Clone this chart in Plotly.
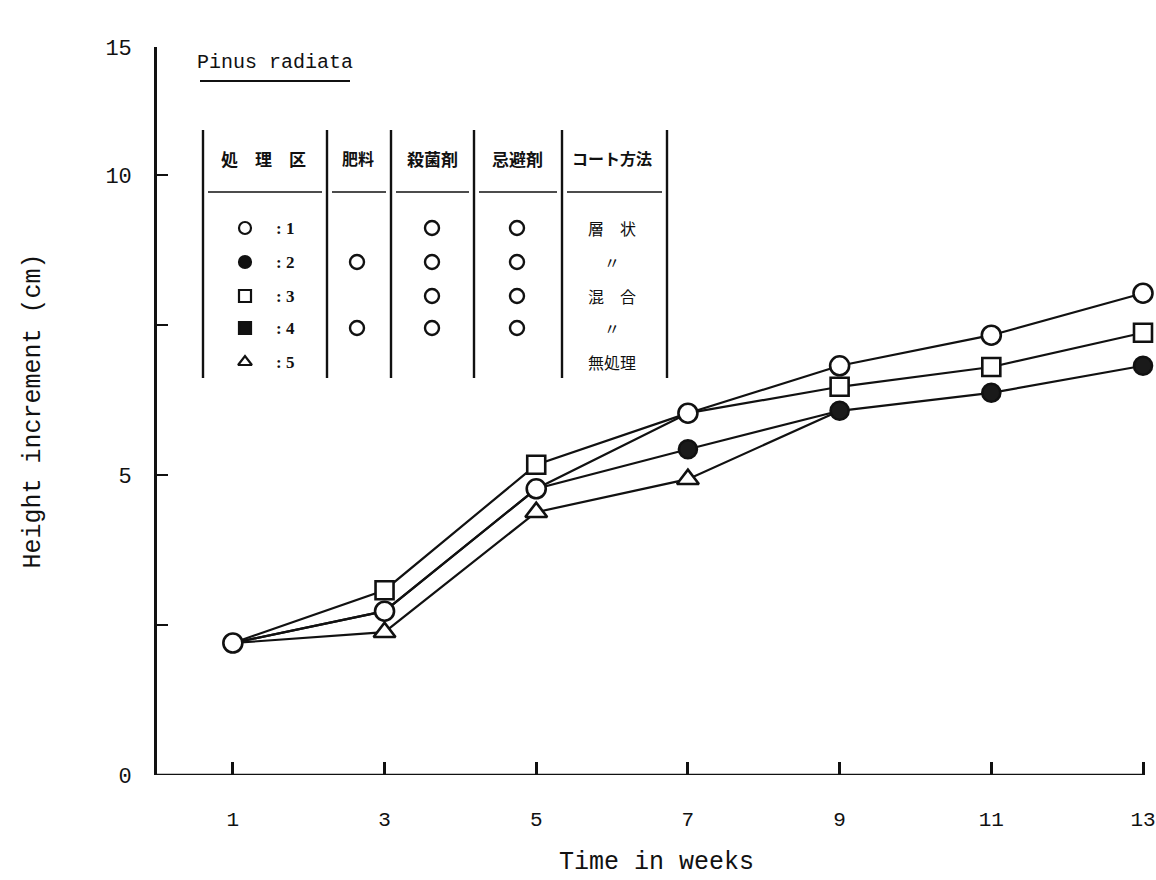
import plotly.graph_objects as go

# ---------------- data ----------------
weeks = [1, 3, 5, 7, 9, 11, 13]
t1_open_circle = [2.2, 2.73, 4.77, 6.03, 6.82, 7.33, 8.03]
t2_filled_circle = [2.2, 2.73, 4.77, 5.43, 6.07, 6.37, 6.82]
t3_open_square = [2.2, 3.08, 5.17, 6.03, 6.47, 6.80, 7.37]
t5_weeks = [1, 3, 5, 7, 9]
t5_triangle = [2.2, 2.38, 4.38, 4.93, 6.07]

# which points show a marker (others are hidden under another symbol)
t1_show = [1, 1, 1, 1, 1, 1, 1]
t2_show = [0, 0, 0, 1, 1, 1, 1]
t3_show = [0, 1, 1, 0, 1, 1, 1]
t5_show = [0, 1, 1, 1, 0]

x_ticks = [1, 3, 5, 7, 9, 11, 13]
x_ticktext = ["1", "3", "5", "7", "9", "11", "13"]
y_top = 12.133
y_ticks = [0, 2.5, 5, 7.5, 10, y_top]
y_ticktext = ["0", "", "5", "", "10", "15"]

table_header = ["処　理　区", "肥料", "殺菌剤", "忌避剤", "コート方法"]
table_ids = [": 1", ": 2", ": 3", ": 4", ": 5"]
table_symbols = ["circle-open", "circle", "square-open", "square", "triangle-up-open"]
fert = [0, 1, 0, 1, 0]
fungicide = [1, 1, 1, 1, 0]
repellent = [1, 1, 1, 1, 0]
coat = ["層　状", "〃", "混　合", "〃", "無処理"]

# ---------------- geometry helpers (layout only) ----------------
W, H = 1156, 880
ML, MR, MT, MB = 157, 0, 47, 105
X_AXIS_END_PX = 1143
XR = [0, 13 * (W - ML - MR) / (X_AXIS_END_PX - ML)]
YR = [0, y_top]


def px2x(px):
    return XR[0] + (px - ML) / (W - ML - MR) * (XR[1] - XR[0])


def py2y(py):
    return YR[0] + (H - MB - py) / (H - MB - MT) * (YR[1] - YR[0])


MONO = "Liberation Mono, Courier New, monospace"
CJK = "Noto Sans CJK JP"
INK = "#111111"

fig = go.Figure()

line_style = dict(color=INK, width=2.2)
for xs, ys in [(weeks, t1_open_circle), (weeks, t2_filled_circle),
               (weeks, t3_open_square), (t5_weeks, t5_triangle)]:
    fig.add_trace(go.Scatter(x=xs, y=ys, mode="lines", line=line_style,
                             hoverinfo="skip", showlegend=False, cliponaxis=False))


def marker_trace(xs, ys, show, symbol, fill, size):
    mx = [x for x, s in zip(xs, show) if s]
    my = [y for y, s in zip(ys, show) if s]
    return go.Scatter(x=mx, y=my, mode="markers", cliponaxis=False, showlegend=False,
                      marker=dict(symbol=symbol, size=size, color=fill,
                                  line=dict(color=INK, width=2.6)))


fig.add_trace(marker_trace(weeks, t3_open_square, t3_show, "square", "white", 18))
fig.add_trace(marker_trace(t5_weeks, t5_triangle, t5_show, "triangle-up", "white", 19))
fig.add_trace(marker_trace(weeks, t2_filled_circle, t2_show, "circle", "#1a1a1a", 18))
fig.add_trace(marker_trace(weeks, t1_open_circle, t1_show, "circle", "white", 19))

shapes = []
annotations = []

# x axis line ending at the last tick
shapes.append(dict(type="line", xref="x", yref="y", x0=0, x1=x_ticks[-1], y0=0, y1=0,
                   line=dict(color=INK, width=2.4), layer="below"))

# title with underline
annotations.append(dict(x=px2x(275), y=py2y(62), xref="x", yref="y", text="Pinus radiata",
                        showarrow=False, font=dict(family=MONO, size=20, color=INK)))
shapes.append(dict(type="line", xref="x", yref="y", x0=px2x(200), x1=px2x(350),
                   y0=py2y(81), y1=py2y(81), line=dict(color=INK, width=2)))

# table
col_lines = [203, 327, 391, 474, 562, 667]
for cx in col_lines:
    shapes.append(dict(type="line", xref="x", yref="y", x0=px2x(cx), x1=px2x(cx),
                       y0=py2y(130), y1=py2y(378), line=dict(color=INK, width=2.4)))
for a, b in zip(col_lines[:-1], col_lines[1:]):
    shapes.append(dict(type="line", xref="x", yref="y", x0=px2x(a + 5), x1=px2x(b - 5),
                       y0=py2y(192), y1=py2y(192), line=dict(color=INK, width=1.6)))
header_x = [263, 358, 432, 517, 612]
header_size = [17, 16, 17, 17, 16]
for hx, txt, fs in zip(header_x, table_header, header_size):
    annotations.append(dict(x=px2x(hx), y=py2y(158), xref="x", yref="y", text="<b>" + txt + "</b>",
                            showarrow=False, font=dict(family=CJK, size=fs, color=INK)))
row_y = [228, 262, 296, 328, 362]
fig.add_trace(go.Scatter(x=[px2x(245)] * 5, y=[py2y(r) for r in row_y], mode="markers",
                         cliponaxis=False, showlegend=False, hoverinfo="skip",
                         marker=dict(symbol=table_symbols, size=12, color=INK,
                                     line=dict(color=INK, width=2.2))))
for r, lab in zip(row_y, table_ids):
    annotations.append(dict(x=px2x(285), y=py2y(r), xref="x", yref="y", text="<b>" + lab + "</b>",
                            showarrow=False, font=dict(family="Liberation Serif", size=17, color=INK)))
mark_x, mark_y = [], []
for col_px, flags in [(357, fert), (432, fungicide), (517, repellent)]:
    for r, f in zip(row_y, flags):
        if f:
            mark_x.append(px2x(col_px))
            mark_y.append(py2y(r))
fig.add_trace(go.Scatter(x=mark_x, y=mark_y, mode="markers", cliponaxis=False,
                         showlegend=False, hoverinfo="skip",
                         marker=dict(symbol="circle-open", size=14, color=INK,
                                     line=dict(color=INK, width=2.4))))
for r, txt in zip(row_y, coat):
    annotations.append(dict(x=px2x(612), y=py2y(r), xref="x", yref="y", text=txt,
                            showarrow=False, font=dict(family=CJK, size=16, color=INK)))

fig.update_layout(
    width=W, height=H, autosize=False,
    margin=dict(l=ML, r=MR, t=MT, b=MB),
    paper_bgcolor="white", plot_bgcolor="white",
    shapes=shapes, annotations=annotations,
    xaxis=dict(range=XR, showgrid=False, zeroline=False, showline=False,
               ticks="inside", ticklen=13,
               tickwidth=2.6, tickcolor=INK, tickvals=x_ticks, ticktext=x_ticktext,
               tickfont=dict(family=MONO, size=21, color=INK), ticklabelstandoff=29,
               title=dict(text="Time in weeks", font=dict(family=MONO, size=25, color=INK),
                          standoff=20)),
    yaxis=dict(range=YR, showgrid=False, zeroline=False, showline=True,
               linecolor=INK, linewidth=2.6, ticks="inside", ticklen=11,
               tickwidth=2.4, tickcolor=INK, tickvals=y_ticks, ticktext=y_ticktext,
               tickfont=dict(family=MONO, size=22, color=INK), ticklabelstandoff=18,
               title=dict(text="Height increment (cm)",
                          font=dict(family=MONO, size=25, color=INK), standoff=58)),
)

fig.write_html("out.html")
